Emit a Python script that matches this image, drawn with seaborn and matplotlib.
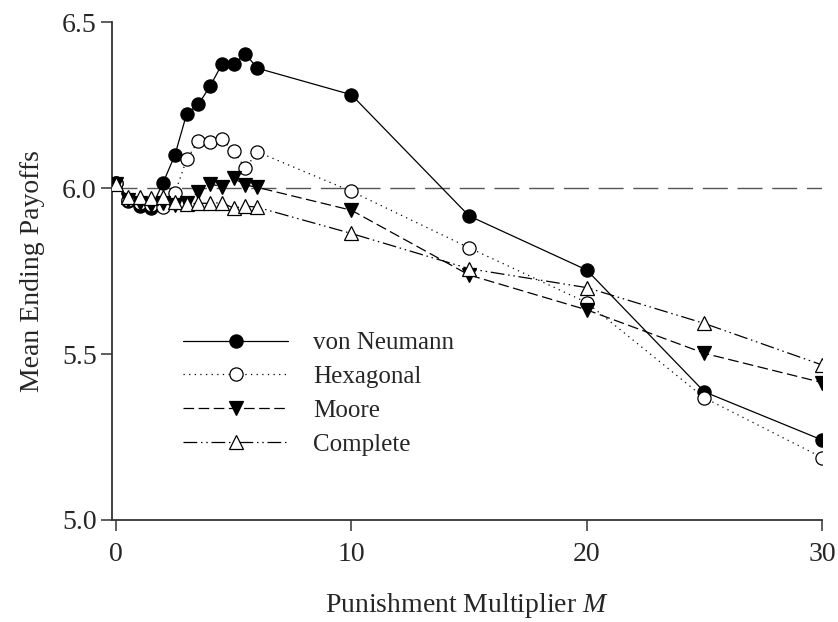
import matplotlib
matplotlib.use("Agg")
import matplotlib.pyplot as plt
import seaborn as sns
import pandas as pd

# Punishment multiplier values
multiplier = [0, 0.5, 1, 1.5, 2, 2.5, 3, 3.5, 4, 4.5, 5, 5.5, 6, 10, 15, 20, 25, 30]

# Mean ending payoffs per neighbourhood type
von_neumann = [6.016, 5.960, 5.946, 5.941, 6.016, 6.099, 6.223, 6.252, 6.307, 6.373,
               6.373, 6.404, 6.361, 6.281, 5.916, 5.753, 5.386, 5.241]
hexagonal = [6.016, 5.965, 5.955, 5.950, 5.944, 5.984, 6.086, 6.142, 6.139, 6.147,
             6.111, 6.059, 6.109, 5.990, 5.820, 5.655, 5.368, 5.188]
moore = [6.012, 5.965, 5.955, 5.950, 5.955, 5.950, 5.955, 5.989, 6.012, 6.004,
         6.029, 6.009, 6.002, 5.933, 5.738, 5.633, 5.502, 5.414]
complete = [6.012, 5.974, 5.972, 5.969, 5.972, 5.959, 5.952, 5.954, 5.954, 5.956,
            5.939, 5.946, 5.942, 5.863, 5.757, 5.700, 5.592, 5.467]

series_names = ["von Neumann", "Hexagonal", "Moore", "Complete"]
reference_level = 6.0
y_ticks = [5.0, 5.5, 6.0, 6.5]
x_ticks = [0, 10, 20, 30]

sns.set_theme(style="white")
plt.rcParams["font.family"] = ["Liberation Serif", "DejaVu Serif"]
plt.rcParams["mathtext.fontset"] = "custom"
plt.rcParams["mathtext.rm"] = "Liberation Serif"
plt.rcParams["mathtext.it"] = "Liberation Serif:italic"

df = pd.DataFrame({
    "M": multiplier * 4,
    "payoff": von_neumann + hexagonal + moore + complete,
    "network": sum([[n] * len(multiplier) for n in series_names], []),
})

fig = plt.figure(figsize=(8.38, 6.22), dpi=100)
ax = fig.add_axes([0.1337, 0.164, 0.981 - 0.1337, 0.9646 - 0.164])

# reference line at the baseline payoff
ax.axhline(reference_level, color="#555555", lw=1.0, dashes=(18, 7), zorder=1)

styles = {
    "von Neumann": dict(marker="o", mfc="black", dashes=()),
    "Hexagonal": dict(marker="o", mfc="white", dashes=(1, 3.5)),
    "Moore": dict(marker="v", mfc="black", dashes=(8.5, 3.6)),
    "Complete": dict(marker="^", mfc="white", dashes=(11, 3, 1.2, 3, 1.2, 3)),
}

for i, name in enumerate(series_names):
    sub = df[df["network"] == name]
    st = styles[name]
    kw = dict(color="black", lw=0.9, marker=st["marker"], markersize=9.5,
              markerfacecolor=st["mfc"], markeredgecolor="black",
              markeredgewidth=0.9, label=name, zorder=2 + i)
    if st["dashes"]:
        kw["dashes"] = st["dashes"]
    sns.lineplot(data=sub, x="M", y="payoff", ax=ax, **kw)

ax.set_xlim(-0.17, 30)
ax.set_ylim(5.0, 6.5)
ax.set_xticks(x_ticks)
ax.set_yticks(y_ticks)
ax.set_yticklabels([f"{v:.1f}" for v in y_ticks])
ax.set_xticklabels([str(v) for v in x_ticks])

for side in ["top", "right"]:
    ax.spines[side].set_visible(False)
for side in ["left", "bottom"]:
    ax.spines[side].set_color("#333333")
    ax.spines[side].set_linewidth(1.3)

ax.tick_params(axis="both", which="major", direction="out", length=8, width=1.1,
               color="#333333", labelsize=20, left=True, bottom=True)
ax.tick_params(axis="x", pad=8)
ax.tick_params(axis="y", pad=3)

ax.set_xlabel("Punishment Multiplier $M$", fontsize=20, labelpad=17)
ax.set_ylabel("Mean Ending Payoffs", fontsize=20, labelpad=12)

leg = ax.legend(loc="upper left", bbox_to_anchor=(0.10, 0.378), frameon=False,
                fontsize=18, handlelength=4.2, handletextpad=1.0,
                labelspacing=0.45, borderpad=0, borderaxespad=0)

fig.savefig("out.png", dpi=100)
